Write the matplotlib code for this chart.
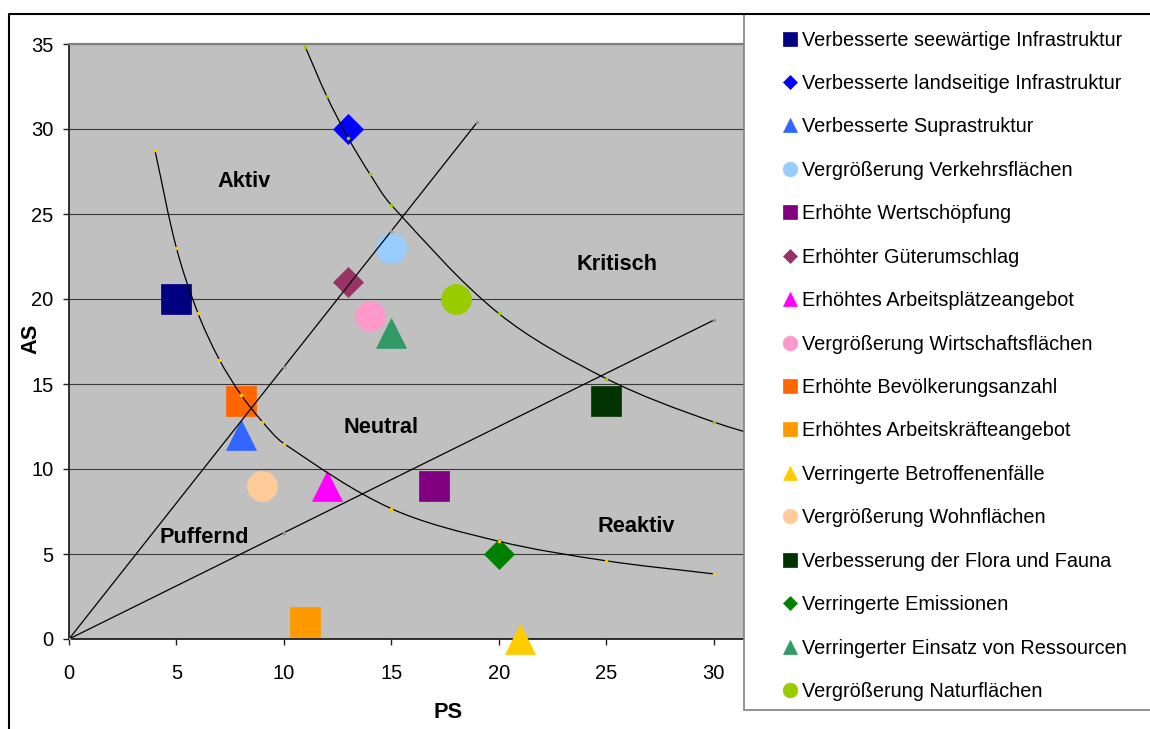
import numpy as np
import matplotlib
matplotlib.use("Agg")
import matplotlib.pyplot as plt
from matplotlib.path import Path
from matplotlib.patches import PathPatch, Rectangle
from matplotlib.lines import Line2D

plt.rcParams['font.family'] = ['Liberation Sans', 'DejaVu Sans']

# --- measures (PS = passive sum, AS = active sum) ---
measures = [
    "Verbesserte seewärtige Infrastruktur",
    "Verbesserte landseitige Infrastruktur",
    "Verbesserte Suprastruktur",
    "Vergrößerung Verkehrsflächen",
    "Erhöhte Wertschöpfung",
    "Erhöhter Güterumschlag",
    "Erhöhtes Arbeitsplätzeangebot",
    "Vergrößerung Wirtschaftsflächen",
    "Erhöhte Bevölkerungsanzahl",
    "Erhöhtes Arbeitskräfteangebot",
    "Verringerte Betroffenenfälle",
    "Vergrößerung Wohnflächen",
    "Verbesserung der Flora und Fauna",
    "Verringerte Emissionen",
    "Verringerter Einsatz von Ressourcen",
    "Vergrößerung Naturflächen",
]
ps_values = [5, 13, 8, 15, 17, 13, 12, 14, 8, 11, 21, 9, 25, 20, 15, 18]
as_values = [20, 30, 12, 23, 9, 21, 9, 19, 14, 1, 0, 9, 14, 5, 18, 20]
marker_shapes = ['s', 'D', '^', 'o', 's', 'D', '^', 'o',
                 's', 's', '^', 'o', 's', 'D', '^', 'o']
colors = ['#000080', '#0000FF', '#3366FF', '#99CCFF',
          '#800080', '#993366', '#FF00FF', '#FF99CC',
          '#FF6600', '#FF9900', '#FFCC00', '#FFCC99',
          '#003300', '#008000', '#339966', '#99CC00']

# --- boundary curves and rays ---
lower_curve_x = [4, 5, 6, 7, 8, 9, 10, 15, 20, 25, 30]
lower_curve_y = [28.75, 23.0, 19.17, 16.43, 14.38, 12.78, 11.5, 7.67, 5.75, 4.6, 3.83]
upper_curve_x = [11, 12, 13, 14, 15, 20, 25, 30, 35]
upper_curve_y = [34.82, 31.92, 29.46, 27.36, 25.53, 19.15, 15.32, 12.77, 10.94]
steep_ray_x = [0, 10, 15, 19]
steep_ray_y = [0, 16, 24, 30.4]
flat_ray_x = [0, 10, 30]
flat_ray_y = [0, 6.25, 18.75]

# --- quadrant names ---
regions = ["Aktiv", "Kritisch", "Neutral", "Puffernd", "Reaktiv"]
region_x = [8.15, 25.5, 14.5, 6.3, 26.4]
region_y = [26.6, 21.7, 12.1, 5.65, 6.3]

x_ticks = [0, 5, 10, 15, 20, 25, 30]
y_ticks = [0, 5, 10, 15, 20, 25, 30, 35]

W, H = 1150, 729
fig = plt.figure(figsize=(W / 100, H / 100), dpi=100)


def fx(px):
    return px / W


def fy(py):
    return 1 - py / H


ax = fig.add_axes([fx(69), fy(639), fx(821) - fx(69), fy(44) - fy(639)])
ax.set_facecolor('#C0C0C0')
ax.set_xlim(0, 35)
ax.set_ylim(0, 35)
ax.set_xticks(x_ticks)
ax.set_yticks(y_ticks)
ax.yaxis.grid(True, color='#3a3a3a', lw=0.8)
ax.set_axisbelow(True)
ax.tick_params(axis='both', direction='out', length=4.5, width=1,
               color='#202020', labelsize=14.5)
ax.tick_params(axis='x', pad=13.5)
ax.tick_params(axis='y', pad=6.5)
for side in ('left', 'bottom'):
    ax.spines[side].set_color('#202020')
    ax.spines[side].set_linewidth(1.3)
ax.spines['top'].set_color('#808080')
ax.spines['top'].set_linewidth(1.6)
ax.spines['right'].set_visible(False)

ax.set_xlabel("PS", fontsize=15.7, fontweight='bold', va='center')
ax.set_ylabel("AS", fontsize=15.7, fontweight='bold', va='center')
ax.xaxis.set_label_coords(0.504, -0.124)
ax.yaxis.set_label_coords(-0.0505, 0.505)

# measures
handles = []
for x, y, m, c, lab in zip(ps_values, as_values, marker_shapes, colors, measures):
    ms = 15.5 if m == 'D' else 21.6
    h, = ax.plot([x], [y], linestyle='none', marker=m, ms=ms, color=c,
                 mec=c, mew=0.5, zorder=3, clip_on=False, label=lab)
    handles.append(h)


def smooth_path(xs, ys):
    """Smooth curve through the points (chord-length Hermite as cubic Beziers)."""
    pts = np.column_stack([xs, ys]).astype(float)
    n = len(pts)
    seg = np.hypot(*np.diff(pts, axis=0).T)
    t = np.concatenate([[0], np.cumsum(seg)])
    tang = np.zeros_like(pts)
    tang[0] = (pts[1] - pts[0]) / (t[1] - t[0])
    tang[-1] = (pts[-1] - pts[-2]) / (t[-1] - t[-2])
    for i in range(1, n - 1):
        tang[i] = (pts[i + 1] - pts[i - 1]) / (t[i + 1] - t[i - 1])
    verts = [pts[0]]
    codes = [Path.MOVETO]
    for i in range(n - 1):
        dt = t[i + 1] - t[i]
        verts += [pts[i] + tang[i] * dt / 3, pts[i + 1] - tang[i + 1] * dt / 3,
                  pts[i + 1]]
        codes += [Path.CURVE4] * 3
    return Path(verts, codes)


for xs, ys, mcol in [(lower_curve_x, lower_curve_y, '#FFCC00'),
                     (upper_curve_x, upper_curve_y, '#99CC00'),
                     (steep_ray_x, steep_ray_y, '#969696'),
                     (flat_ray_x, flat_ray_y, '#969696')]:
    ax.add_patch(PathPatch(smooth_path(xs, ys), fill=False, ec='black',
                           lw=0.9, zorder=4))
    ax.plot(xs, ys, linestyle='none', marker='o', ms=2.6, color=mcol,
            mew=0, zorder=5)

for name, x, y in zip(regions, region_x, region_y):
    ax.text(x, y, name, ha='center', va='baseline', fontsize=15.7,
            fontweight='bold', color='black', zorder=6)

# legend panel
fig.patches.append(Rectangle((fx(744), fy(710)), fx(1170) - fx(744),
                             fy(14) - fy(710), transform=fig.transFigure,
                             facecolor='white', edgecolor='#808080',
                             lw=1.2, zorder=1))
leg = fig.legend(handles=handles, loc='upper left',
                 bbox_to_anchor=(fx(783), fy(30.5)), frameon=False,
                 borderpad=0, borderaxespad=0, numpoints=1,
                 handlelength=0.75, handletextpad=0.19, labelspacing=1.23,
                 markerscale=0.49, fontsize=14.3)
leg.set_zorder(5)

# outer chart frame
fig.lines.append(Line2D([fx(9), fx(9), fx(1160)], [fy(740), fy(14.3), fy(14.3)],
                        transform=fig.transFigure, color='black', lw=1.5,
                        zorder=10))

fig.savefig("out.png", dpi=100)
